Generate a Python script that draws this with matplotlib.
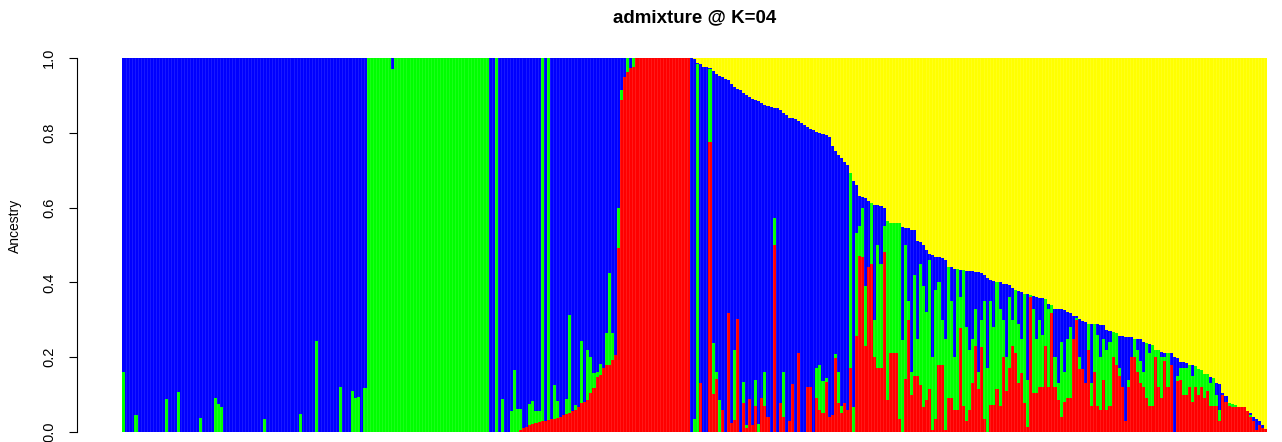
import numpy as np
import matplotlib
matplotlib.use("Agg")
import matplotlib.pyplot as plt

# ancestry proportions per individual
# section A: blue cluster, green share at the bottom of each bar
a_green = [
    .16, 0, 0, 0, .046, 0, 0, 0, 0, 0,
    0, 0, 0, 0, .088, 0, 0, 0, .108, 0,
    0, 0, 0, 0, 0, .037, 0, 0, 0, 0,
    .09, .075, .066, 0, 0, 0, 0, 0, 0, 0,
    0, 0, 0, 0, 0, 0, .035, 0, 0, 0,
    0, 0, 0, 0, 0, 0, 0, 0, .047, 0,
    0, 0, 0, .244, 0, 0, 0, 0, 0, 0,
    0, .12, 0, 0, 0, .11, .09, .093, 0, .117,
]

# section B: green cluster (one bar with a blue cap)
b_green = [
    1, 1, 1, 1, 1, 1, 1, 1, .97, 1,
    1, 1, 1, 1, 1, 1, 1, 1, 1, 1,
    1, 1, 1, 1, 1, 1, 1, 1, 1, 1,
    1, 1, 1, 1, 1, 1, 1, 1, 1, 1,
]

# section C: blue -> red transition (cumulative tops, blue fills to 1)
c_red = [
    0, 0, 0, 0, 0, 0, 0, 0, 0, 0,
    .005, .01, .014, .018, .022, .025, .027, .029, .03, .032,
    .035, .036, .038, .041, .045, .048, .05, .055, .059, .068,
    .077, .08, .086, .104, .117, .148, .152, .17, .179, .18,
    .192, .206, .491, .888, .95, .963, .972, .977, 1, 1,
    1, 1, 1, 1, 1, 1, 1, 1, 1, 1,
    1, 1, 1, 1, 1, 1,
]
c_green_top = [
    0, 0, 1, 0, .088, 0, 0, .057, .166, .061,
    .061, .01, .014, .075, .084, .056, .057, 1, .03, 1,
    .035, .126, .084, .041, .045, .088, .313, .055, .073, .068,
    .243, .08, .219, .2, .157, .161, .183, .17, .264, .426,
    .264, .206, .598, .914, .95, 1, .972, 1, 1, 1,
    1, 1, 1, 1, 1, 1, 1, 1, 1, 1,
    1, 1, 1, 1, 1, 1,
]

# section D: admixed individuals with yellow on top (cumulative tops)
d_top = [
    1.0, .998, .986, .985, .976, .976, .972, .965, .958, .952,
    .95, .945, .94, .93, .923, .916, .914, .906, .9, .896,
    .89, .888, .885, .879, .874, .871, .868, .866, .865, .86,
    .853, .847, .84, .839, .838, .832, .826, .82, .816, .81,
    .807, .803, .799, .796, .793, .789, .764, .75, .74, .732,
    .722, .714, .692, .67, .66, .63, .629, .625, .617, .612,
    .607, .606, .604, .6, .565, .56, .56, .56, .559, .548,
    .546, .545, .541, .54, .51, .509, .5, .487, .477, .473,
    .468, .468, .466, .46, .441, .44, .437, .436, .433, .432,
    .431, .431, .43, .428, .427, .424, .42, .411, .406, .405,
    .402, .4, .397, .396, .393, .384, .379, .376, .375, .37,
    .369, .366, .365, .362, .358, .357, .356, .342, .34, .33,
    .33, .33, .326, .321, .317, .31, .309, .303, .296, .294,
    .29, .289, .289, .288, .287, .285, .272, .27, .268, .266,
    .258, .257, .255, .253, .253, .25, .25, .249, .24, .237,
    .236, .234, .22, .218, .213, .212, .211, .21, .2, .198,
    .188, .187, .185, .179, .178, .177, .168, .166, .156, .155,
    .146, .145, .131, .128, .105, .096, .077, .076, .073, .068,
    .068, .066, .055, .05, .041, .035, .03, .018, .008,
]
d_red = [
    0, 0, 0, .13, 0, 0, .776, .103, .143, 0,
    .059, 0, .317, .023, .032, .301, 0, .077, .01, .089,
    .02, .07, 0, .09, .07, .04, 0, .5, 0, .077,
    .041, 0, .03, .129, 0, .21, 0, 0, .12, .12,
    0, .09, .06, .05, .135, .041, .045, .197, .077, .05,
    .077, .06, .17, 0, .258, .47, .468, .23, .441, .45,
    .2, .17, .17, .48, .086, .21, .21, .21, .036, 0,
    .143, .3, .1, .15, .15, .126, .068, .086, .116, .005,
    .036, .18, .18, .005, .09, .09, .059, .059, .277, .07,
    .03, .059, .131, .23, .116, .228, .036, 0, .073, .073,
    .116, .07, .2, .11, .17, .23, .21, .13, .159, .077,
    .014, .36, .104, .104, .12, .12, .23, .12, .317, .12,
    .086, .04, .08, .09, .09, .25, .3, .168, .168, .13,
    .22, .07, .16, .07, .06, .14, .06, .07, .2, .18,
    .15, .12, .03, .12, .2, .2, .16, .13, .12, .09,
    .07, .07, .2, .12, .09, .19, .12, .18, 0, .136,
    .14, .1, .1, .12, .08, .12, .1, .12, .09, .11,
    .07, .07, .07, .03, .1, .08, .07, .066, .068, .068,
    .068, .066, .055, .04, .03, .005, .02, .01, .007,
]
d_green_top = [
    0, .035, .985, .13, 0, 0, .97, .237, .161, .086,
    .059, 0, .317, .023, .219, .301, 0, .134, .02, .089,
    .02, .14, .022, .09, .16, .04, 0, .571, 0, .077,
    .161, 0, .03, .129, 0, .21, 0, 0, .12, .12,
    0, .17, .18, .136, .145, .041, .045, .208, .161, .07,
    .077, .06, .692, .068, .532, .55, .6, .39, .441, .612,
    .3, .5, .45, .55, .565, .56, .56, .56, .559, .246,
    .5, .35, .16, .42, .25, .45, .39, .32, .46, .2,
    .38, .4, .3, .25, .441, .35, .2, .436, .36, .432,
    .28, .22, .25, .33, .16, .3, .35, .17, .35, .28,
    .4, .33, .3, .2, .36, .3, .379, .29, .25, .37,
    .14, .366, .33, .25, .3, .26, .356, .33, .34, .2,
    .13, .24, .16, .25, .28, .25, .305, .2, .168, .13,
    .289, .13, .289, .26, .2, .25, .22, .24, .268, .266,
    .17, .12, .03, .14, .2, .25, .22, .19, .16, .237,
    .21, .234, .22, .218, .2, .2, .21, .18, 0, .15,
    .17, .17, .17, .179, .15, .177, .168, .166, .156, .155,
    .13, .145, .1, .06, .1, .08, .077, .076, .073, .068,
    .068, .066, .055, .045, .03, .005, .02, .01, .007,
]

yticks = [0.0, 0.2, 0.4, 0.6, 0.8, 1.0]
ytick_labels = ["0.0", "0.2", "0.4", "0.6", "0.8", "1.0"]
colors = ["#FF0000", "#00FF00", "#0000FF", "#FFFF00"]


def main():
    plt.rcParams["font.family"] = ["Liberation Sans", "DejaVu Sans"]

    na, nb = len(a_green), len(b_green)
    red_top = np.concatenate([np.zeros(na + nb), c_red, d_red])
    green_top = np.concatenate([a_green, b_green, c_green_top, d_green_top])
    blue_top = np.concatenate([np.ones(na + nb + len(c_red)), d_top])
    n = len(red_top)

    # R barplot layout: width 1, space 0.2
    x = 0.2 + 1.2 * np.arange(n) + 0.5

    fig = plt.figure(figsize=(12.82, 4.42), dpi=100)
    ax = fig.add_axes([77 / 1282, -5 / 442, 1236 / 1282, 404 / 442])

    parts = [(np.zeros(n), red_top), (red_top, green_top),
             (green_top, blue_top), (blue_top, np.ones(n))]
    for (lo, hi), c in zip(parts, colors):
        ax.bar(x - 0.1, hi - lo, bottom=lo, width=1.2, color=c, linewidth=0)

    # faint gaps between bars, as in the original device output
    ax.vlines(x[1:] - 0.6, 0, 1, colors="white", linewidth=0.4, alpha=0.18)

    span = 1.2 * n - 0.2
    ax.set_xlim(0.2 - 0.04 * span, 1.2 * n + 0.04 * span)
    ax.set_ylim(-0.04, 1.04)

    for s in ["top", "right", "bottom"]:
        ax.spines[s].set_visible(False)
    ax.spines["left"].set_bounds(0, 1)
    ax.spines["left"].set_linewidth(0.8)
    ax.set_xticks([])
    ax.set_yticks(yticks)
    ax.set_yticklabels(ytick_labels, rotation=90, va="center")
    ax.tick_params(axis="y", length=6, width=0.8, pad=9, labelsize=10.5)
    ax.patch.set_visible(False)

    fig.text(695 / 1282, 1 - 18 / 442, "admixture @ K=04", ha="center",
             va="center", fontsize=13.5, fontweight="bold")
    fig.text(15 / 1282, 1 - 226 / 442, "Ancestry", rotation=90,
             ha="center", va="center", fontsize=10)

    fig.savefig("out.png", dpi=100)


if __name__ == "__main__":
    main()
